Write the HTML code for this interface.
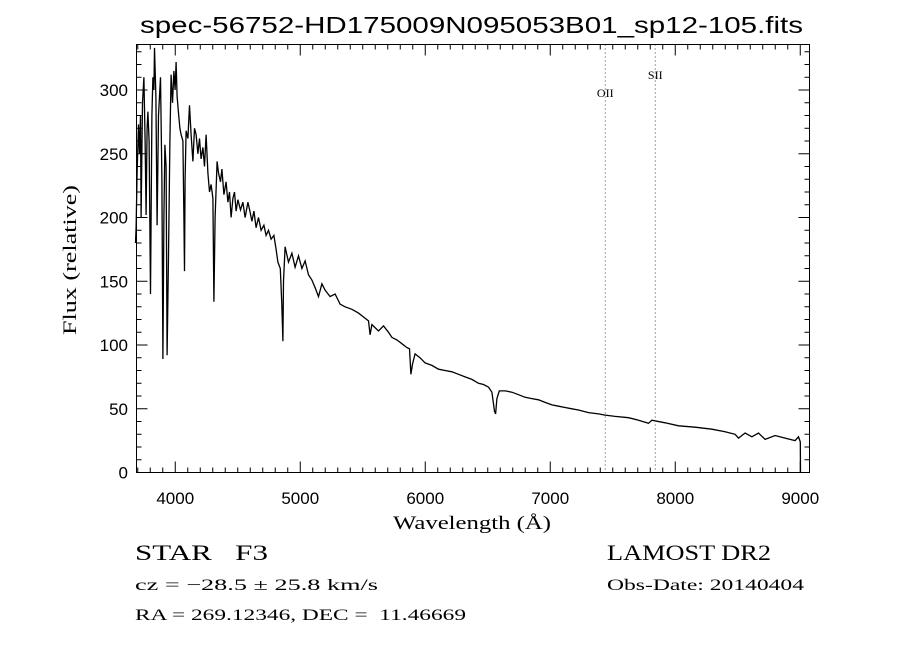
<!DOCTYPE html>
<html><head><meta charset="utf-8"><style>
body{margin:0;background:#fff;}
svg{display:block;}
.t{font-family:"Liberation Sans",sans-serif;fill:#000;}
.s{font-family:"Liberation Serif",serif;fill:#000;}
</style></head><body>
<svg id="chart" width="900" height="650" viewBox="0 0 900 650" xmlns="http://www.w3.org/2000/svg">
<rect width="900" height="650" fill="#fff"/>
<text class="t" x="140" y="33" font-size="23" textLength="663" lengthAdjust="spacingAndGlyphs">spec-56752-HD175009N095053B01_sp12-105.fits</text>
<g id="grid"></g>
<rect x="136.5" y="44.5" width="673" height="428" fill="none" stroke="#000" stroke-width="1"/>
<text class="s" x="393" y="529" font-size="19" textLength="158" lengthAdjust="spacingAndGlyphs">Wavelength (Å)</text>
<text class="s" x="0" y="0" font-size="19" text-anchor="middle" textLength="150" lengthAdjust="spacingAndGlyphs" transform="translate(76,260) rotate(-90)">Flux (relative)</text>
<text class="s" x="135" y="560" font-size="22" textLength="133" lengthAdjust="spacingAndGlyphs" xml:space="preserve">STAR   F3</text>
<text class="s" x="135" y="590" font-size="16" textLength="243" lengthAdjust="spacingAndGlyphs">cz = −28.5 ± 25.8 km/s</text>
<text class="s" x="135" y="620" font-size="16" textLength="331" lengthAdjust="spacingAndGlyphs" xml:space="preserve">RA = 269.12346, DEC =  11.46669</text>
<text class="s" x="607" y="560" font-size="22" textLength="164" lengthAdjust="spacingAndGlyphs">LAMOST DR2</text>
<text class="s" x="607" y="590" font-size="16" textLength="197" lengthAdjust="spacingAndGlyphs">Obs-Date: 20140404</text>
</svg>
<script>
const wave=[3682,3687,3695,3706,3714,3722,3727,3738,3749,3759,3767,3775,3781,3791,3802,3813,3821,3829,3834,3845,3855,3866,3882,3893,3901,3909,3917,3927,3935,3946,3957,3967,3978,3989,3999,4007,4015,4026,4037,4047,4061,4069,4074,4079,4087,4101,4114,4127,4141,4154,4167,4181,4194,4207,4221,4234,4247,4261,4274,4287,4301,4309,4319,4335,4346,4362,4373,4389,4407,4421,4434,4447,4461,4474,4487,4501,4522,4541,4559,4581,4597,4613,4629,4647,4666,4687,4709,4727,4746,4767,4789,4807,4821,4840,4852,4861,4866,4879,4906,4933,4959,4986,5013,5039,5066,5093,5119,5146,5173,5199,5239,5279,5319,5359,5413,5466,5506,5546,5559,5573,5626,5666,5706,5733,5773,5813,5853,5874,5885,5898,5919,5959,5999,6053,6106,6159,6213,6266,6319,6373,6426,6466,6506,6533,6554,6563,6573,6592,6640,6693,6746,6799,6853,6906,6959,7013,7066,7119,7173,7226,7306,7386,7439,7519,7626,7706,7786,7813,7919,8026,8159,8293,8399,8479,8506,8559,8613,8666,8719,8799,8879,8959,8986,9000,9002];
const flux=[180,192,235,273,250,280,200,290,310,260,202,270,283,260,140,280,310,300,333,295,194,280,310,230,89,200,257,240,92,170,260,312,290,315,300,322,295,282,270,265,260,200,158,230,268,262,288,265,244,270,265,250,262,246,255,240,265,235,220,226,215,134,200,244,235,228,238,218,228,212,220,200,215,220,205,214,206,212,200,212,205,197,205,192,200,190,194,186,190,183,186,175,165,160,132,103,150,177,165,172,161,170,160,166,155,151,145,138,148,143,138,140,132,130,128,125,122,119,108,116,111,115,110,106,104,101,98,97,77,85,93,90,86,84,81,80,79,77,75,73,70,69,67,63,48,46,58,64,64,63,61,59,58,57,55,53,52,51,50,49,47,46,45,44,43,41,38.6,41,39,36.6,35.5,34,32,30,27,31,28,31,26,29,27,25,28,24,-1];
const xTicks=[4000,5000,6000,7000,8000,9000];
const yTicks=[0,50,100,150,200,250,300];
const lineNames=["OII","SII"];
const lineWaves=[7440,7840];

const L=136.5,R=809.5,T=44.5,B=472.5,W0=3690,W1=9074,F0=0,F1=335.7;
const X=w=>L+(w-W0)/(W1-W0)*(R-L);
const Y=f=>B-(f-F0)/(F1-F0)*(B-T);
const NS="http://www.w3.org/2000/svg";
const g=document.getElementById('grid');
function mk(tag,attrs,parent){const e=document.createElementNS(NS,tag);for(const k in attrs)e.setAttribute(k,attrs[k]);(parent||g).appendChild(e);return e;}
for(let w=3700;w<=W1;w+=100){
  const maj=w%1000===0;const len=maj?11:5;const x=X(w);
  const t1=mk('line',{x1:x,y1:B,x2:x,y2:B-len,stroke:'#000'});
  
  
  const t2=mk('line',{x1:x,y1:T,x2:x,y2:T+len,stroke:'#000'});
  
  
}
xTicks.forEach(w=>{
  const t=mk('text',{x:X(w),y:504,'font-size':17,'text-anchor':'middle',class:'t'});
  t.textContent=w;
  
  
});
for(let f=0;f<=330;f+=10){
  const maj=f%50===0;const len=maj?11:5;const y=Y(f);
  const t1=mk('line',{x1:L,y1:y,x2:L+len,y2:y,stroke:'#000'});
  
  
  const t2=mk('line',{x1:R,y1:y,x2:R-len,y2:y,stroke:'#000'});
  
  
}
yTicks.forEach(f=>{
  const t=mk('text',{x:128,y:Y(f)+6,'font-size':17,'text-anchor':'end',class:'t'});
  t.textContent=f;
  
  
});
lineWaves.forEach((w,i)=>{
  const l=mk('line',{x1:X(w),y1:T,x2:X(w),y2:B,stroke:'#8b2020','stroke-dasharray':'1,3'});
  
  
  const t=mk('text',{x:X(w),y:i===0?97:79,'font-size':12,'text-anchor':'middle',class:'s'});
  t.textContent=lineNames[i];
  
  
});
const d=wave.map((w,i)=>(i?'L':'M')+X(w).toFixed(1)+' '+Math.min(B,Math.max(T,Y(flux[i]))).toFixed(1)).join(' ');
const p=mk('path',{d:d,fill:'none',stroke:'#000','stroke-width':1.3});


</script>
</body></html>
